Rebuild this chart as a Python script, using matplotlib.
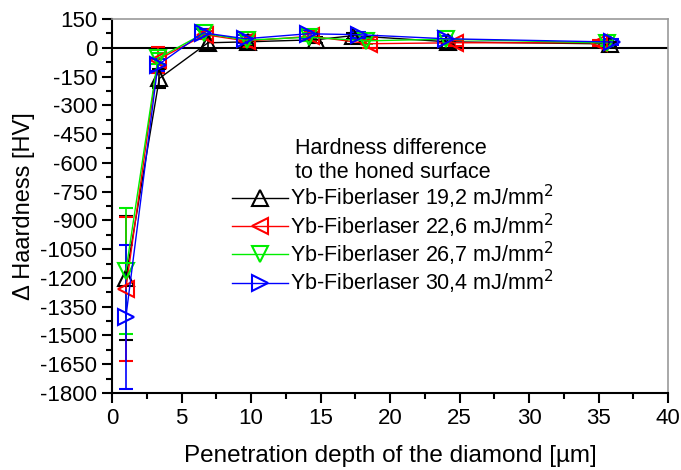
import matplotlib.pyplot as plt
from matplotlib.ticker import MultipleLocator

plt.rcParams['font.family'] = ['Liberation Sans', 'DejaVu Sans']
plt.rcParams['axes.unicode_minus'] = False

# penetration depth [um] and hardness difference [HV] per laser fluence
x_192 = [1.0, 3.4, 6.9, 9.8, 14.7, 17.3, 24.2, 35.8]
y_192 = [-1199, -160, 26, 31, 42, 63, 31, 20]
e_192 = [323, 48, 40, 15, 15, 15, 10, 10]

x_226 = [1.0, 3.3, 6.7, 9.7, 14.3, 18.5, 24.7, 35.0]
y_226 = [-1256, -62, 68, 35, 60, 21, 26, 26]
e_226 = [376, 67, 20, 30, 20, 20, 15, 15]

x_267 = [1.0, 3.3, 6.6, 9.7, 14.2, 18.3, 24.0, 35.6]
y_267 = [-1163, -55, 75, 40, 55, 36, 45, 25]
e_267 = [329, 30, 20, 20, 20, 15, 15, 15]

x_304 = [1.0, 3.3, 6.55, 9.6, 14.1, 17.8, 24.0, 36.0]
y_304 = [-1402, -90, 78, 47, 73, 68, 47, 30]
e_304 = [376, 30, 20, 20, 20, 15, 15, 15]

labels = ['Yb-Fiberlaser 19,2 mJ/mm$^2$', 'Yb-Fiberlaser 22,6 mJ/mm$^2$',
          'Yb-Fiberlaser 26,7 mJ/mm$^2$', 'Yb-Fiberlaser 30,4 mJ/mm$^2$']

fig = plt.figure(figsize=(6.81, 4.70), dpi=100)
ax = fig.add_axes([0.1645, 0.1638, 0.8165, 0.7958])

ax.axhline(0, color='black', lw=1.5, zorder=1)

series = [(x_192, y_192, e_192, 'black', '^', labels[0]),
          (x_226, y_226, e_226, 'red', '<', labels[1]),
          (x_267, y_267, e_267, '#00ee00', 'v', labels[2]),
          (x_304, y_304, e_304, 'blue', '>', labels[3])]
handles = []
for xs, ys, es, col, mk, lab in series:
    c = ax.errorbar(xs, ys, yerr=es, color=col, marker=mk, markersize=11,
                    markerfacecolor='none', markeredgewidth=1.5, lw=1,
                    elinewidth=1.2, capsize=5, capthick=1.2, label=lab)
    handles.append(c.lines[0])

ax.set_xlim(0, 40)
ax.set_ylim(-1800, 150)
ax.set_xticks(range(0, 41, 5))
ax.set_yticks(range(-1800, 151, 150))
ax.xaxis.set_minor_locator(MultipleLocator(2.5))
ax.yaxis.set_minor_locator(MultipleLocator(75))
ax.tick_params(which='major', direction='out', length=7, width=1.5, labelsize=16)
ax.tick_params(which='minor', direction='out', length=4, width=1.5)
ax.tick_params(top=False, right=False)

for s in ['left', 'bottom']:
    ax.spines[s].set_linewidth(1.5)
for s in ['top', 'right']:
    ax.spines[s].set_color('#999999')
    ax.spines[s].set_linewidth(1.2)

ax.set_xlabel('Penetration depth of the diamond [µm]', fontsize=17.5, labelpad=12)
ax.set_ylabel('Δ Haardness [HV]', fontsize=17, labelpad=4)

leg = ax.legend(handles, labels, title='Hardness difference\nto the honed surface',
                loc='upper left', bbox_to_anchor=(0.2, 0.705), frameon=False,
                fontsize=15.5, title_fontsize=15.5, handlelength=2.6,
                handletextpad=0.1, labelspacing=0.0, borderaxespad=0)

fig.savefig('out.png', dpi=100)
